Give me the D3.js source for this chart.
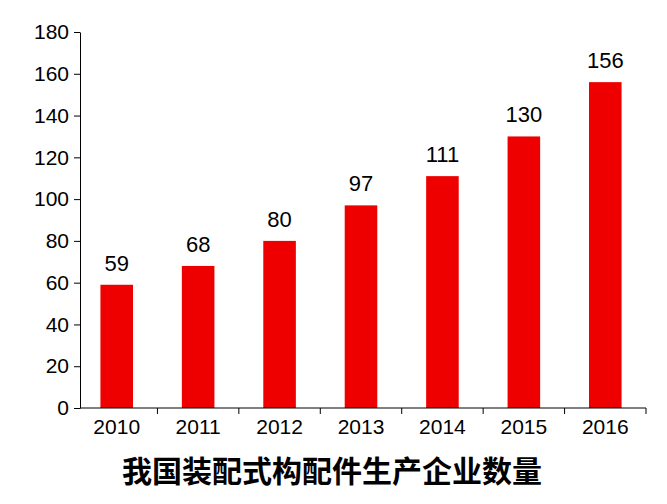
<!DOCTYPE html>
<html><head><meta charset="utf-8">
<script src="https://cdn.jsdelivr.net/npm/d3@7"></script>
<style>body{margin:0;background:#fff;}</style>
</head><body>
<svg id="c" width="667" height="504"></svg>
<script>
const categories = ["2010","2011","2012","2013","2014","2015","2016"];
const values = [59,68,80,97,111,130,156];
const yTicks = [0,20,40,60,80,100,120,140,160,180];
const title = "我国装配式构配件生产企业数量";

const svg = d3.select("#c");
const x = d3.scaleBand().domain(categories).range([76,646]).paddingInner(0.6).paddingOuter(0.3);
const y = d3.scaleLinear().domain([0,180]).range([408,32]);
const font = "'Liberation Sans', Arial, sans-serif";

const ya = svg.append("g").attr("transform","translate(80,0)")
  .call(d3.axisLeft(y).tickValues(yTicks).tickSize(6).tickSizeOuter(0));
ya.selectAll("text").attr("font-size",21).attr("font-family",font).attr("fill","#000").attr("dx",-2);
ya.selectAll("line,path").attr("stroke","#000");

svg.selectAll("rect.bar").data(values).join("rect")
  .attr("x",(d,i)=>x(categories[i])).attr("width",x.bandwidth())
  .attr("y",d=>y(d)).attr("height",d=>y(0)-y(d)).attr("fill","#ee0000");

svg.selectAll("text.v").data(values).join("text")
  .attr("x",(d,i)=>x(categories[i])+x.bandwidth()/2).attr("y",d=>y(d)-14)
  .attr("text-anchor","middle").attr("font-size",22).attr("font-family",font).text(d=>d);

const xa = svg.append("g").attr("transform","translate(0,408)")
  .call(d3.axisBottom(x).tickSize(0).tickPadding(11));
xa.selectAll("text").attr("font-size",21).attr("font-family",font).attr("fill","#000");
xa.select("path").attr("d","M80,0H646").attr("stroke","#000");
svg.selectAll("line.sep").data(categories).join("line")
  .attr("x1",d=>x(d)+x.bandwidth()/2+x.step()/2).attr("x2",d=>x(d)+x.bandwidth()/2+x.step()/2)
  .attr("y1",408).attr("y2",414).attr("stroke","#000");

svg.append("text").attr("x",332).attr("y",482).attr("text-anchor","middle")
  .attr("font-size",30).attr("font-weight","bold").attr("font-family","'Noto Sans CJK SC'").text(title);
</script>
</body></html>
